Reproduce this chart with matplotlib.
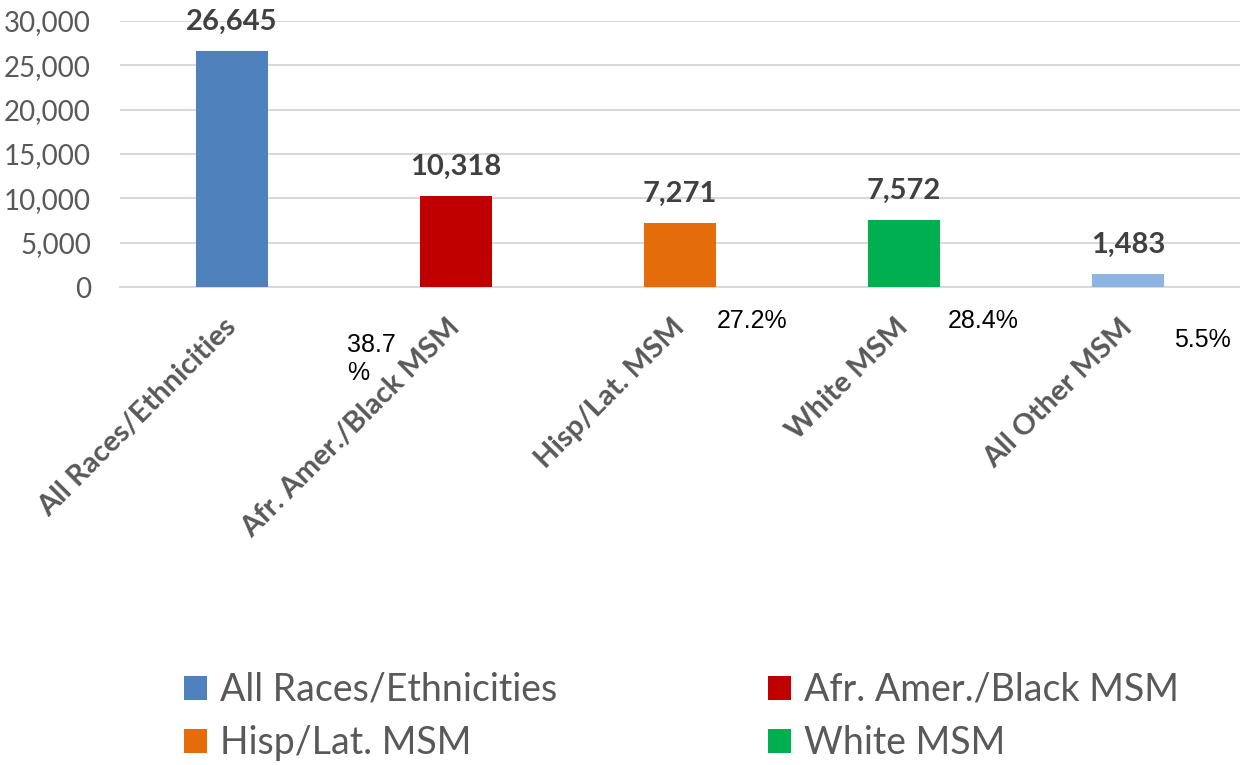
import matplotlib.pyplot as plt

# Categories and values
groups = ["All Races/Ethnicities", "Afr. Amer./Black MSM", "Hisp/Lat. MSM",
          "White MSM", "All Other MSM"]
diagnoses = [26645, 10318, 7271, 7572, 1483]
colors = ["#4F81BD", "#C00000", "#E46C0A", "#00B050", "#8DB4E2"]

# Share of MSM diagnoses (for the 4 subgroups)
pct_groups = [1, 2, 3, 4]
pct_labels = ["38.7\n%", "27.2%", "28.4%", "5.5%"]

plt.rcParams['font.family'] = ['Lato', 'DejaVu Sans']

fig = plt.figure(figsize=(12.4, 7.65), dpi=100)
ax = fig.add_axes([120/1240, 1 - 287/765, 1120/1240, 266/765])

x = list(range(len(groups)))
bars = ax.bar(x, diagnoses, width=0.317, color=colors, zorder=3)

# value labels on top of bars
for i, v in enumerate(diagnoses):
    ax.annotate(f"{v:,}", xy=(i, v), xytext=(0, 16), textcoords='offset pixels',
                ha='center', va='bottom', fontsize=21, fontweight='bold',
                color='#404040')

# percent labels under the axis
pct_dx = [-109, 37, 44, 46]
pct_dy = [-46, -22, -22, -41]
for g, lab, dx, dy in zip(pct_groups, pct_labels, pct_dx, pct_dy):
    ax.annotate(lab, xy=(g, 0), xytext=(dx, dy), textcoords='offset pixels',
                ha='left', va='top', fontsize=18,
                family=['Liberation Sans Narrow', 'Liberation Sans'],
                color='black', linespacing=1.2, annotation_clip=False)

ax.set_xlim(-0.5, 4.5)
ax.set_ylim(0, 30000)
ax.set_yticks(range(0, 30001, 5000))
ax.set_yticklabels([f"{t:,}" for t in range(0, 30001, 5000)], fontsize=20, color='#595959')
ax.set_xticks(x)
ax.set_xticklabels(groups, rotation=45, ha='right', va='center', rotation_mode='anchor',
                   fontsize=21, fontweight='bold', color='#595959')
ax.tick_params(axis='both', length=0)
ax.tick_params(axis='x', pad=26)
ax.tick_params(axis='y', pad=21)

ax.grid(axis='y', color='#D9D9D9', linewidth=1.5, zorder=0)
for s in ['top', 'right', 'left']:
    ax.spines[s].set_visible(False)
ax.spines['bottom'].set_color('#D9D9D9')
ax.spines['bottom'].set_linewidth(1.5)

# legend: two columns, first four series
order = [0, 2, 1, 3]
leg = fig.legend([bars[i] for i in order], [groups[i] for i in order], ncol=2,
                 loc='upper left', bbox_to_anchor=(184/1240, 1 - 672/765),
                 frameon=False, fontsize=27, handlelength=0.62, handleheight=0.62,
                 handletextpad=0.35, columnspacing=5.6, labelspacing=0.45,
                 borderpad=0, borderaxespad=0)
for t in leg.get_texts():
    t.set_color('#595959')

fig.savefig("out.png", dpi=100)
